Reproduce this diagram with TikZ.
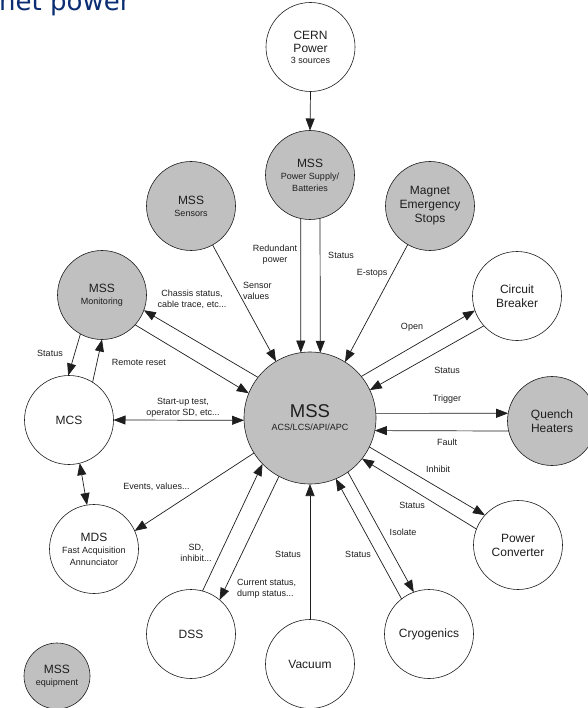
\documentclass[tikz,border=0pt]{standalone}
\usepackage{fontspec}
\setmainfont{Liberation Sans}
\newfontfamily\titlefont{DejaVu Sans}
\usetikzlibrary{arrows.meta}
\definecolor{mssgray}{RGB}{192,192,192}
\definecolor{titleblue}{RGB}{10,45,115}
\definecolor{inkc}{RGB}{30,30,30}
\newcommand{\bigf}{\fontsize{12}{14}\selectfont}
\newcommand{\subf}{\fontsize{9}{11}\selectfont}
\tikzset{
  circ/.style={circle, draw=inkc, line width=0.6pt, minimum size=89pt, inner sep=0pt, outer sep=0pt,
    align=center, font=\bigf, text=inkc},
  grayc/.style={circ, fill=mssgray},
  conn/.style={draw=inkc, line width=0.7pt, -{Triangle[length=12pt,width=9pt]}},
  conntwo/.style={draw=inkc, line width=0.7pt, {Triangle[length=12pt,width=9pt]}-{Triangle[length=12pt,width=9pt]}},
  lab/.style={font=\subf, align=center, inner sep=0pt, text=inkc}
}
\begin{document}
\begin{tikzpicture}[x=1pt,y=-1pt]
\useasboundingbox (0,0) rectangle (587,708);
\fill[white] (0,0) rectangle (587,708);
\node[anchor=base west, inner sep=0pt, font=\titlefont\fontsize{26}{30}\selectfont, text=titleblue] (title) at (-1,11) {net power};

% nodes
\node[circ] (cern) at (310.5,47) {CERN\\[-1pt]Power\\[-3pt]{\subf 3 sources}};
\node[grayc] (psu) at (310,175) {MSS\\[-2pt]{\subf Power Supply/}\\[-2pt]{\subf Batteries}};
\node[grayc] (sens) at (191,206) {MSS\\[-2pt]{\subf Sensors}};
\node[grayc] (estop) at (430,206) {Magnet\\Emergency\\Stops};
\node[grayc] (mon) at (102,295) {MSS\\[-2pt]{\subf Monitoring}};
\node[circ] (mcs) at (69,420) {MCS};
\node[grayc, minimum size=132pt] (mss) at (310,418) {{\fontsize{18.5}{20}\selectfont MSS}\\[-1pt]{\subf ACS/LCS/API/APC}};
\node[circ] (cb) at (517,296) {Circuit\\Breaker};
\node[grayc] (qh) at (552,421) {Quench\\Heaters};
\node[circ] (pc) at (518,545) {Power\\Converter};
\node[circ] (cryo) at (429,634) {Cryogenics};
\node[circ] (vac) at (310,664) {Vacuum};
\node[circ] (dss) at (191,634) {DSS};
\node[circ] (mds) at (94,549) {MDS\\[-2pt]{\subf Fast Acquisition}\\[-2pt]{\subf Annunciator}};
\node[grayc, minimum size=66pt] (equip) at (57,676) {MSS\\[-2pt]{\subf equipment}};

% connectors
\draw[conn] (cern.south) -- (psu.north);
\draw[conn] (psu.258) -- (mss.98);
\draw[conn] (psu.283) -- (mss.81);
\draw[conn] (sens.-61) -- (mss.121);
\draw[conn] (estop.240) -- (mss.58);
\draw[conn] (mss.142) -- (mon.-20);
\draw[conn] (mon.-42) -- (mss.158);
\draw[conn] (mon.241) -- (mcs.91);
\draw[conn] (mcs.58) -- (mon.270);
\draw[conntwo] (mcs.0) -- (mss.182);
\draw[conntwo] (mcs.-76) -- (mds.99);
\draw[conn] (mss.212) -- (mds.24);
\draw[conn] (dss.75) -- (mss.224);
\draw[conn] (mss.242) -- (dss.50);
\draw[conn] (vac.north) -- (mss.south);
\draw[conn] (cryo.128) -- (mss.-67);
\draw[conn] (mss.-55) -- (cryo.110);
\draw[conn] (mss.-26) -- (pc.138);
\draw[conn] (pc.159) -- (mss.-38);
\draw[conn] (mss.4) -- (qh.170);
\draw[conn] (qh.193) -- (mss.-11);
\draw[conn] (mss.39) -- (cb.199);
\draw[conn] (cb.222) -- (mss.25);

% labels
\node[lab] (l1) at (275,255) {Redundant\\power};
\node[lab] (l2) at (341,255) {Status};
\node[lab, anchor=west, align=left] (l3) at (243,290.5) {Sensor\\values};
\node[lab] (l4) at (372,273) {E-stops};
\node[lab] (l5) at (192,299.5) {Chassis status,\\cable trace, etc...};
\node[lab] (l6) at (50,353) {Status};
\node[lab] (l7) at (139,362) {Remote reset};
\node[lab] (l8) at (183,407.5) {Start-up test,\\operator SD, etc...};
\node[lab] (l9) at (156.5,487) {Events, values...};
\node[lab] (l10) at (196,552.5) {SD,\\inhibit...};
\node[lab, anchor=west, align=left] (l11) at (237,589) {Current status,\\dump status...};
\node[lab] (l12) at (288,554) {Status};
\node[lab] (l13) at (358,554) {Status};
\node[lab] (l14) at (403,532) {Isolate};
\node[lab] (l15) at (412,505) {Status};
\node[lab] (l16) at (438,469) {Inhibit};
\node[lab] (l17) at (447,442) {Fault};
\node[lab] (l18) at (447,398.7) {Trigger};
\node[lab] (l19) at (447,370.7) {Status};
\node[lab] (l20) at (412,327) {Open};
\end{tikzpicture}
\end{document}
